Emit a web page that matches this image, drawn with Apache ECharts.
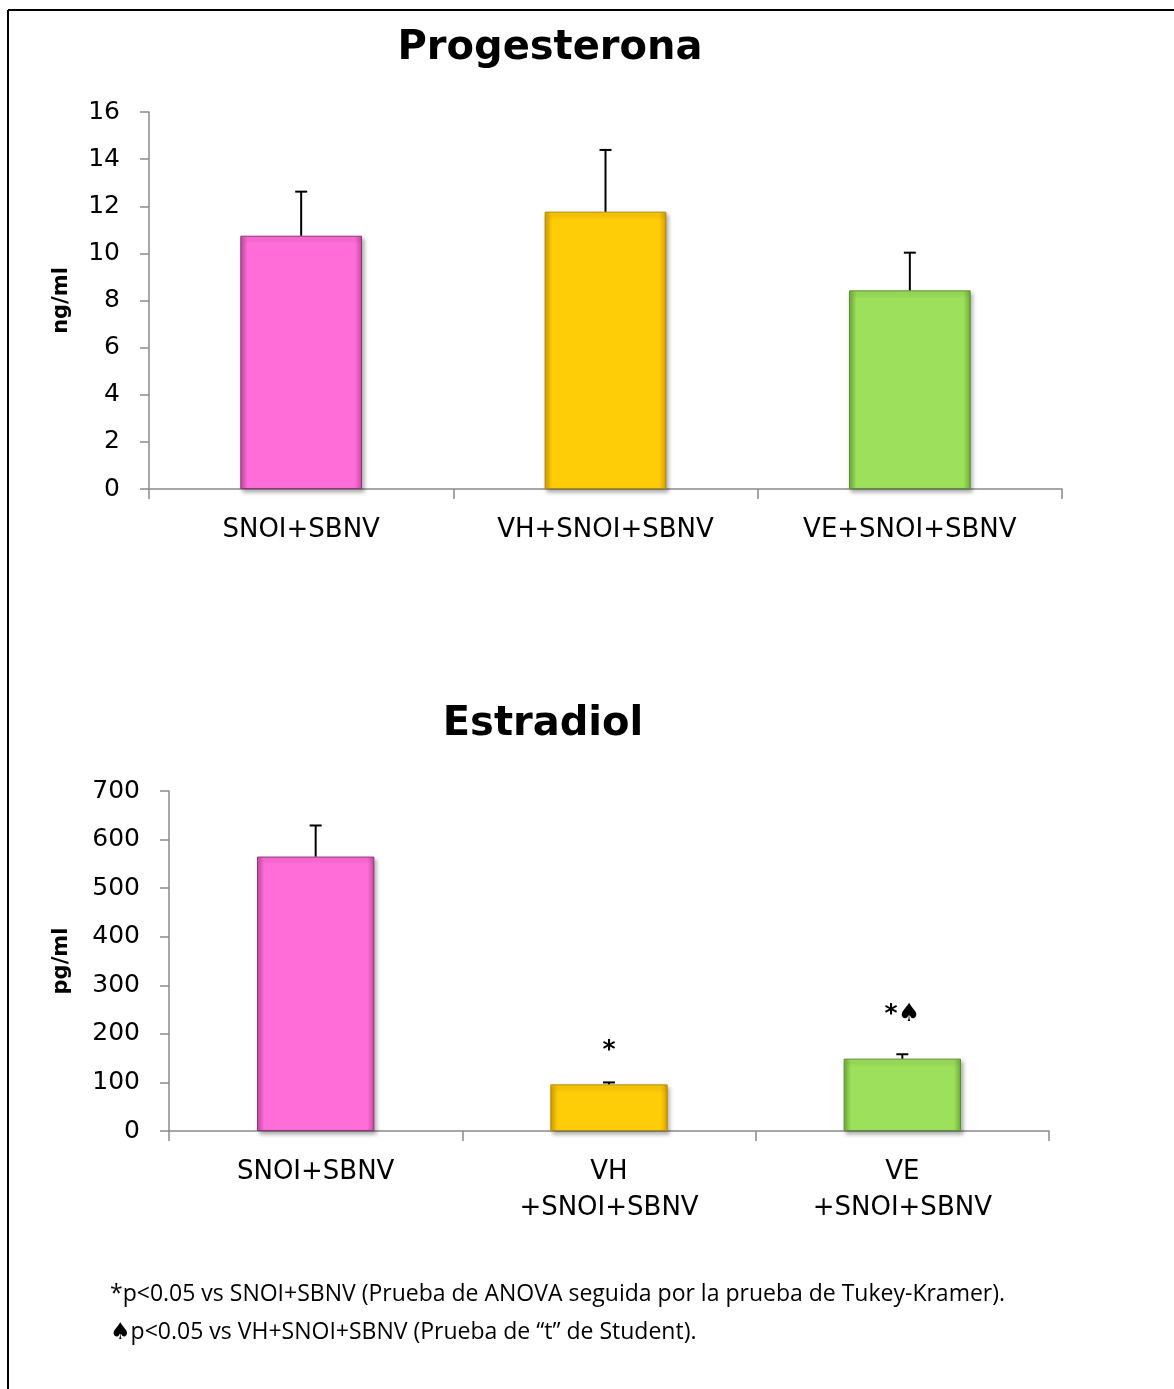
<!DOCTYPE html>
<html>
<head>
<meta charset="utf-8">
<script src="https://cdn.jsdelivr.net/npm/echarts@6/dist/echarts.min.js"></script>
<style>
html,body{margin:0;padding:0;background:#fff;}
#c{width:1174px;height:1389px;}
</style>
</head>
<body>
<div id="c"></div>
<script>
// ---- data ----
const progCategories = ['SNOI+SBNV', 'VH+SNOI+SBNV', 'VE+SNOI+SBNV'];
const progValues = [10.75, 11.77, 8.43];
const progErrors = [1.87, 2.62, 1.6];
const progTicks = [0, 2, 4, 6, 8, 10, 12, 14, 16];

const estrCategories = ['SNOI+SBNV', 'VH\n+SNOI+SBNV', 'VE\n+SNOI+SBNV'];
const estrValues = [565, 96, 149];
const estrErrors = [64, 4, 9];
const estrTicks = [0, 100, 200, 300, 400, 500, 600, 700];
const estrMarks = ['', '*', '*\u2660'];

const footnotes = [
  '*p<0.05 vs SNOI+SBNV (Prueba de ANOVA seguida por la prueba de Tukey-Kramer).',
  '\u2660p<0.05 vs VH+SNOI+SBNV (Prueba de \u201ct\u201d de Student).'
];

// ---- styles ----
const FONT = '"DejaVu Sans", sans-serif';
const barColors = [
  { base: '#FF6ED8', dark: '#C94AA8', light: '#FF9BE6', border: '#8E3575' },
  { base: '#FFCC08', dark: '#D9A000', light: '#FFF23A', border: '#B58A00' },
  { base: '#9DE05B', dark: '#6FAE38', light: '#C8F58E', border: '#5E8F33' }
];
function barStyle(i) {
  const c = barColors[i];
  return {
    color: {
      type: 'linear', x: 0, y: 0, x2: 1, y2: 0,
      colorStops: [
        { offset: 0, color: c.dark },
        { offset: 0.06, color: c.base },
        { offset: 0.94, color: c.base },
        { offset: 1, color: c.dark }
      ]
    },
    borderColor: c.border,
    borderWidth: 1,
    shadowColor: 'rgba(0,0,0,0.3)',
    shadowBlur: 4,
    shadowOffsetX: 2,
    shadowOffsetY: 3
  };
}

function makeErrRender(marks) {
  return function (params, api) {
    const x = api.value(0), v = api.value(1), e = api.value(2);
    const p0 = api.coord([x, v]);
    const p1 = api.coord([x, v + e]);
    const children = [
      { type: 'line', shape: { x1: p0[0], y1: p0[1], x2: p1[0], y2: p1[1] },
        style: { stroke: '#000', lineWidth: 2 } },
      { type: 'line', shape: { x1: p1[0] - 6, y1: p1[1], x2: p1[0] + 6, y2: p1[1] },
        style: { stroke: '#000', lineWidth: 2 } }
    ];
    const m = marks ? marks[params.dataIndex] : '';
    if (m) {
      children.push({
        type: 'text',
        style: {
          text: m, x: p1[0], y: p1[1] - (m.length > 1 ? 27 : 19),
          align: 'center', verticalAlign: 'bottom',
          font: 'bold 25px ' + FONT, fill: '#000'
        }
      });
    }
    return { type: 'group', children: children };
  };
}

const axisLineStyle = { color: '#8A8A8A', width: 1.5 };

const chart = echarts.init(document.getElementById('c'));
chart.setOption({
  backgroundColor: '#fff',
  animation: false,
  grid: [
    { left: 149, right: 112, top: 112, height: 377 },
    { left: 169, right: 125, top: 791, height: 340 }
  ],
  xAxis: [
    {
      gridIndex: 0, type: 'category', data: progCategories,
      axisLine: { lineStyle: axisLineStyle },
      axisTick: { show: true, length: 10, lineStyle: axisLineStyle },
      axisLabel: { color: '#000', fontSize: 26, fontFamily: FONT, margin: 23, lineHeight: 36 }
    },
    {
      gridIndex: 1, type: 'category', data: estrCategories,
      axisLine: { lineStyle: axisLineStyle },
      axisTick: { show: true, length: 10, lineStyle: axisLineStyle },
      axisLabel: { color: '#000', fontSize: 26, fontFamily: FONT, margin: 23, lineHeight: 36 }
    }
  ],
  yAxis: [
    {
      gridIndex: 0, type: 'value', min: progTicks[0], max: progTicks[progTicks.length - 1],
      interval: progTicks[1] - progTicks[0],
      name: 'ng/ml', nameLocation: 'middle', nameGap: 77,
      nameTextStyle: { color: '#000', fontSize: 21, fontWeight: 'bold', fontFamily: FONT },
      axisLine: { show: true, lineStyle: axisLineStyle },
      axisTick: { show: true, length: 9, lineStyle: axisLineStyle },
      splitLine: { show: false },
      axisLabel: { color: '#000', fontSize: 25, fontFamily: FONT, margin: 29 }
    },
    {
      gridIndex: 1, type: 'value', min: estrTicks[0], max: estrTicks[estrTicks.length - 1],
      interval: estrTicks[1] - estrTicks[0],
      name: 'pg/ml', nameLocation: 'middle', nameGap: 97,
      nameTextStyle: { color: '#000', fontSize: 21, fontWeight: 'bold', fontFamily: FONT },
      axisLine: { show: true, lineStyle: axisLineStyle },
      axisTick: { show: true, length: 9, lineStyle: axisLineStyle },
      splitLine: { show: false },
      axisLabel: { color: '#000', fontSize: 25, fontFamily: FONT, margin: 29 }
    }
  ],
  series: [
    {
      type: 'bar', xAxisIndex: 0, yAxisIndex: 0, barWidth: '40%',
      data: progValues.map((v, i) => ({ value: v, itemStyle: barStyle(i) }))
    },
    {
      type: 'custom', xAxisIndex: 0, yAxisIndex: 0, z: 5,
      renderItem: makeErrRender(null),
      data: progValues.map((v, i) => [i, v, progErrors[i]])
    },
    {
      type: 'bar', xAxisIndex: 1, yAxisIndex: 1, barWidth: '40%',
      data: estrValues.map((v, i) => ({ value: v, itemStyle: barStyle(i) }))
    },
    {
      type: 'custom', xAxisIndex: 1, yAxisIndex: 1, z: 5,
      renderItem: makeErrRender(estrMarks),
      data: estrValues.map((v, i) => [i, v, estrErrors[i]])
    }
  ],
  graphic: [
    { type: 'line', shape: { x1: 8, y1: 10, x2: 1174, y2: 10 }, style: { stroke: '#000', lineWidth: 2 } },
    { type: 'line', shape: { x1: 8, y1: 10, x2: 8, y2: 1389 }, style: { stroke: '#000', lineWidth: 2 } },
    { type: 'text', style: { text: 'Progesterona', x: 550, y: 49, align: 'center', verticalAlign: 'middle', font: 'bold 40px ' + FONT, fill: '#000' } },
    { type: 'text', style: { text: 'Estradiol', x: 543, y: 725, align: 'center', verticalAlign: 'middle', font: 'bold 40px ' + FONT, fill: '#000' } },
    { type: 'text', style: { text: footnotes[0], x: 110, y: 1294, verticalAlign: 'middle', font: '23px "Open Sans", sans-serif', fill: '#000' } },
    { type: 'text', style: { text: footnotes[1], x: 110, y: 1332, verticalAlign: 'middle', font: '23px "Open Sans", "DejaVu Sans", sans-serif', fill: '#000' } }
  ]
});
</script>
</body>
</html>
